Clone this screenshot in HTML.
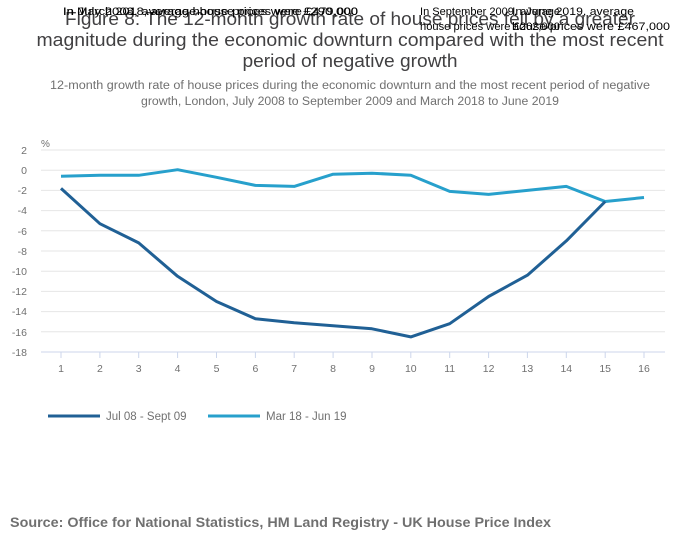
<!DOCTYPE html><html><head><style>
body{margin:0;background:#fff;width:700px;height:549px;overflow:hidden;font-family:"Liberation Sans",sans-serif}
</style></head><body>
<svg width="700" height="549" xmlns="http://www.w3.org/2000/svg" font-family="Liberation Sans, sans-serif">
<text x="350" y="25" text-anchor="middle" font-size="18" fill="#414042" textLength="570" lengthAdjust="spacingAndGlyphs">Figure 8: The 12-month growth rate of house prices fell by a greater</text>
<text x="350" y="46" text-anchor="middle" font-size="18" fill="#414042" textLength="627" lengthAdjust="spacingAndGlyphs">magnitude during the economic downturn compared with the most recent</text>
<text x="350" y="67" text-anchor="middle" font-size="18" fill="#414042" textLength="215" lengthAdjust="spacingAndGlyphs">period of negative growth</text>
<g font-size="11" fill="#000">
<text x="63" y="15" textLength="295" lengthAdjust="spacingAndGlyphs">In March 2018, average house prices were £479,000</text>
<text x="63" y="15" textLength="295" lengthAdjust="spacingAndGlyphs">In July 2008, average house prices were £290,000</text>
<text x="420" y="15" textLength="140" lengthAdjust="spacingAndGlyphs">In September 2009, average</text>
<text x="420" y="30" textLength="140" lengthAdjust="spacingAndGlyphs">house prices were £262,000</text>
<text x="512" y="15" textLength="122" lengthAdjust="spacingAndGlyphs">In June 2019, average</text>
<text x="512" y="30" textLength="158" lengthAdjust="spacingAndGlyphs">house prices were £467,000</text>
</g>
<text x="350" y="89" text-anchor="middle" font-size="11.5" fill="#707070" textLength="600" lengthAdjust="spacingAndGlyphs">12-month growth rate of house prices during the economic downturn and the most recent period of negative</text>
<text x="350" y="105" text-anchor="middle" font-size="11.5" fill="#707070" textLength="418" lengthAdjust="spacingAndGlyphs">growth, London, July 2008 to September 2009 and March 2018 to June 2019</text>
<text x="41" y="147" font-size="10" fill="#707070">%</text>
<g stroke="#e6e6e6" stroke-width="1">
<line x1="41" x2="665" y1="150" y2="150"/><line x1="41" x2="665" y1="170.2" y2="170.2"/><line x1="41" x2="665" y1="190.4" y2="190.4"/><line x1="41" x2="665" y1="210.6" y2="210.6"/><line x1="41" x2="665" y1="230.8" y2="230.8"/><line x1="41" x2="665" y1="251" y2="251"/><line x1="41" x2="665" y1="271.2" y2="271.2"/><line x1="41" x2="665" y1="291.4" y2="291.4"/><line x1="41" x2="665" y1="311.6" y2="311.6"/><line x1="41" x2="665" y1="331.8" y2="331.8"/>
</g>
<line x1="41" x2="665" y1="352" y2="352" stroke="#ccd6eb"/>
<g font-size="10.5" fill="#707070" text-anchor="end">
<text x="27" y="154">2</text><text x="27" y="174">0</text><text x="27" y="194">-2</text><text x="27" y="214">-4</text><text x="27" y="235">-6</text><text x="27" y="255">-8</text><text x="27" y="275">-10</text><text x="27" y="295">-12</text><text x="27" y="315">-14</text><text x="27" y="336">-16</text><text x="27" y="356">-18</text>
</g>
<g stroke="#ccd6eb">
<line x1="61" x2="61" y1="352" y2="358"/><line x1="99.9" x2="99.9" y1="352" y2="358"/><line x1="138.7" x2="138.7" y1="352" y2="358"/><line x1="177.6" x2="177.6" y1="352" y2="358"/><line x1="216.5" x2="216.5" y1="352" y2="358"/><line x1="255.4" x2="255.4" y1="352" y2="358"/><line x1="294.2" x2="294.2" y1="352" y2="358"/><line x1="333.1" x2="333.1" y1="352" y2="358"/><line x1="372" x2="372" y1="352" y2="358"/><line x1="410.8" x2="410.8" y1="352" y2="358"/><line x1="449.7" x2="449.7" y1="352" y2="358"/><line x1="488.6" x2="488.6" y1="352" y2="358"/><line x1="527.4" x2="527.4" y1="352" y2="358"/><line x1="566.3" x2="566.3" y1="352" y2="358"/><line x1="605.2" x2="605.2" y1="352" y2="358"/><line x1="644" x2="644" y1="352" y2="358"/>
</g>
<g font-size="10.5" fill="#707070" text-anchor="middle">
<text x="61" y="372">1</text><text x="99.9" y="372">2</text><text x="138.7" y="372">3</text><text x="177.6" y="372">4</text><text x="216.5" y="372">5</text><text x="255.4" y="372">6</text><text x="294.2" y="372">7</text><text x="333.1" y="372">8</text><text x="372" y="372">9</text><text x="410.8" y="372">10</text><text x="449.7" y="372">11</text><text x="488.6" y="372">12</text><text x="527.4" y="372">13</text><text x="566.3" y="372">14</text><text x="605.2" y="372">15</text><text x="644" y="372">16</text>
</g>
<polyline fill="none" stroke="#27a0cc" stroke-width="3" stroke-linejoin="round" points="61,176.3 99.9,175.3 138.7,175.3 177.6,169.7 216.5,177.3 255.4,185.4 294.2,186.4 333.1,174.2 372,173.2 410.8,175.3 449.7,191.4 488.6,194.4 527.4,190.4 566.3,186.4 605.2,201.5 644,197.5"/>
<polyline fill="none" stroke="#206095" stroke-width="3" stroke-linejoin="round" points="61,188.4 99.9,223.7 138.7,242.9 177.6,276.3 216.5,301.5 255.4,318.7 294.2,322.7 333.1,325.7 372,328.8 410.8,336.9 449.7,323.7 488.6,296.5 527.4,275.2 566.3,240.9 605.2,201.5"/>
<line x1="48" x2="100" y1="416" y2="416" stroke="#206095" stroke-width="3"/>
<text x="106" y="420" font-size="11.5" fill="#707070">Jul 08 - Sept 09</text>
<line x1="208" x2="260" y1="416" y2="416" stroke="#27a0cc" stroke-width="3"/>
<text x="266" y="420" font-size="11.5" fill="#707070">Mar 18 - Jun 19</text>
<text x="10" y="527" font-size="13.5" font-weight="bold" fill="#707070" textLength="541" lengthAdjust="spacingAndGlyphs">Source: Office for National Statistics, HM Land Registry - UK House Price Index</text>
</svg>
</body></html>
